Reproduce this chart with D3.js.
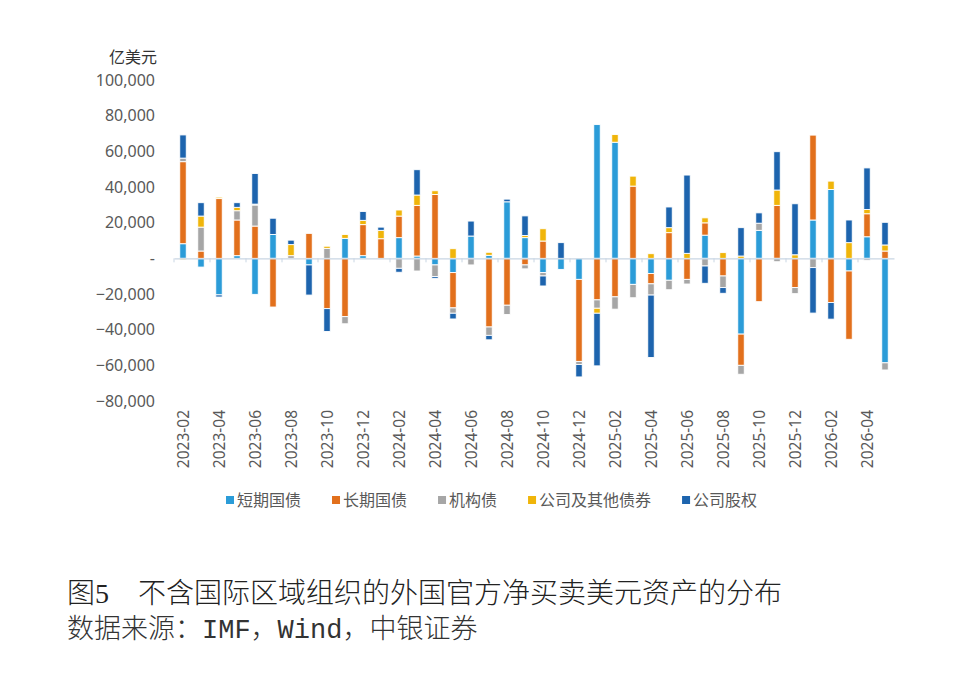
<!DOCTYPE html>
<html>
<head>
<meta charset="utf-8">
<script src="https://cdn.jsdelivr.net/npm/d3@7"></script>
<style>
  html, body { margin: 0; padding: 0; background: #fff; }
  svg { display: block; }
</style>
</head>
<body>
<div id="chart"></div>
<script>
// months on the x axis
const months = [
  '2023-02','2023-03','2023-04','2023-05','2023-06','2023-07','2023-08','2023-09','2023-10','2023-11','2023-12',
  '2024-01','2024-02','2024-03','2024-04','2024-05','2024-06','2024-07','2024-08','2024-09','2024-10','2024-11','2024-12',
  '2025-01','2025-02','2025-03','2025-04','2025-05','2025-06','2025-07','2025-08','2025-09','2025-10','2025-11','2025-12',
  '2026-01','2026-02','2026-03','2026-04','2026-05'
];

// series names (legend order = stack order)
const seriesNames = ['短期国债', '长期国债', '机构债', '公司及其他债券', '公司股权'];
const seriesColors = ['#2b9cd8', '#e2701c', '#a6a6a6', '#f0b50a', '#1d64ae'];

// values, 亿美元
const shortTerm = [
  8200, -4900, -20500, 1500, -20200, 13400, 0, -3700, 0, 11200, 1500,
  0, 11600, 1300, -3700, -8000, 12500, 1700, 31700, 11600, -8000, -6200, -11800,
  75000, 65100, -14600, -8500, -12300, 0, 13000, 0, -42500, 15700, 0, 0,
  21500, 38600, -7100, 12100, -58600
];
const longTerm = [
  46000, 4100, 33500, 20000, 18100, -27300, 0, 14000, -28200, -32700, 17400,
  11000, 12100, 28400, 35800, -19800, 0, -38500, -26300, -3700, 9700, 0, -46000,
  -23300, -21600, 40500, -5800, 14400, -11800, 6900, -9900, -17500, -24300, 29700, -16400,
  47600, -24800, -38300, 12900, 4100
];
const agency = [
  2000, 13400, 0, 5200, 11800, 0, 1500, 0, 5600, -4000, 0,
  0, -5600, -7100, -6500, -3000, -3700, -4700, -5200, -2200, -1900, 0, -1700,
  -4700, -6900, -7500, -6300, -5300, -2600, -4300, -6500, -5000, 4000, -1900, -3400,
  -5200, 0, 0, -1100, -4000
];
const corporate = [
  -800, 6200, 800, 1900, 500, 0, 6200, 0, 1200, 2200, 2400,
  4700, 3400, 5800, 2100, 5400, 0, 1700, 0, 1200, 6900, 0, 0,
  -2800, 4300, 5600, 2600, 2800, 2800, 2800, 3200, 1300, 0, 8600, 2000,
  0, 4700, 8800, 2400, 3400
];
const equity = [
  13000, 7500, -1200, 2600, 17200, 9100, 2500, -16900, -12800, 0, 5000,
  1800, -2200, 14200, -1000, -3200, 8400, -2500, 1500, 11000, -5600, 8800, -7000,
  -29500, 0, 0, -35000, 11600, 43900, -9700, -3200, 15900, 5800, 21500, 28600,
  -25500, -9300, 12700, 23300, 12700
];

const yTicks = [-80000, -60000, -40000, -20000, 0, 20000, 40000, 60000, 80000, 100000];

const seriesValues = [shortTerm, longTerm, agency, corporate, equity];
const table = months.map((m, i) => {
  const row = { month: m };
  seriesNames.forEach((s, k) => { row[s] = seriesValues[k][i]; });
  return row;
});

const W = 963, H = 688;
const plot = { left: 174, right: 894, top: 80, bottom: 401 };
const sansFont = '"Noto Sans", "Noto Sans CJK SC", sans-serif';
const cjkFont = '"Noto Sans CJK SC", sans-serif';

const svg = d3.select('#chart').append('svg')
  .attr('width', W)
  .attr('height', H);

svg.append('rect').attr('width', W).attr('height', H).attr('fill', '#fff');

const x = d3.scaleBand()
  .domain(months)
  .range([plot.left, plot.right])
  .paddingInner(0.64)
  .paddingOuter(0.32);

const y = d3.scaleLinear()
  .domain([-80000, 100000])
  .range([plot.bottom, plot.top]);

// y tick labels (no axis line)
const yAxis = svg.append('g')
  .attr('transform', `translate(${plot.left - 19},0)`)
  .call(d3.axisLeft(y)
    .tickValues(yTicks)
    .tickSize(0)
    .tickPadding(0)
    .tickFormat(d => d === 0 ? '-  ' : d3.format(',')(d)));
yAxis.select('.domain').remove();
yAxis.selectAll('text')
  .attr('fill', '#595959')
  .style('font-family', sansFont)
  .style('font-size', '16px');

// unit label
svg.append('text')
  .attr('x', 157)
  .attr('y', 63)
  .attr('text-anchor', 'end')
  .attr('fill', '#333')
  .style('font-family', cjkFont)
  .style('font-size', '16px')
  .text('亿美元');

// stacked bars, positives up and negatives down
const stack = d3.stack()
  .keys(seriesNames)
  .offset(d3.stackOffsetDiverging);
const layers = stack(table);

svg.append('g')
  .selectAll('g')
  .data(layers)
  .join('g')
  .attr('fill', (d, i) => seriesColors[i])
  .selectAll('rect')
  .data(d => d.filter(p => p[1] !== p[0]))
  .join('rect')
  .attr('x', d => x(d.data.month))
  .attr('width', x.bandwidth())
  .attr('y', d => y(Math.max(d[0], d[1])))
  .attr('height', d => Math.abs(y(d[0]) - y(d[1])))
  .attr('stroke', '#fff')
  .attr('stroke-width', 0.9);

// zero line
const xAxis = svg.append('g')
  .attr('transform', `translate(0,${y(0)})`)
  .call(d3.axisBottom(x).tickValues([]).tickSizeOuter(0));
xAxis.select('.domain').attr('stroke', '#c9d6e3').attr('stroke-width', 1.2);

// small ticks on the zero line, every two months
const gap = (x.step() - x.bandwidth()) / 2;
svg.append('g')
  .selectAll('line')
  .data(months.filter((m, i) => i % 2 === 0))
  .join('line')
  .attr('x1', d => x(d) - gap)
  .attr('x2', d => x(d) - gap)
  .attr('y1', y(0))
  .attr('y2', y(0) + 4)
  .attr('stroke', '#c9d6e3')
  .attr('stroke-width', 1);

// rotated month labels, every second month
svg.append('g')
  .selectAll('text')
  .data(months.filter((m, i) => i % 2 === 0))
  .join('text')
  .attr('transform', d => `translate(${x(d) + x.bandwidth() / 2 + 5.5},410) rotate(-90)`)
  .attr('text-anchor', 'end')
  .attr('fill', '#595959')
  .style('font-family', sansFont)
  .style('font-size', '15.5px')
  .text(d => d);

// legend
const legend = svg.append('g').attr('transform', 'translate(0,500)');
let lx = 226;
seriesNames.forEach((s, i) => {
  const g = legend.append('g').attr('transform', `translate(${lx},0)`);
  g.append('rect')
    .attr('x', 0).attr('y', -4)
    .attr('width', 8).attr('height', 8)
    .attr('fill', seriesColors[i]);
  const t = g.append('text')
    .attr('x', 11)
    .attr('y', 0)
    .attr('dy', '0.35em')
    .attr('fill', '#595959')
    .style('font-family', cjkFont)
    .style('font-size', '16px')
    .text(s);
  lx += 11 + t.node().getComputedTextLength() + 31;
});

// caption
const title = svg.append('text')
  .attr('y', 603)
  .attr('fill', '#222')
  .style('font-family', '"Liberation Serif", "Noto Sans CJK SC", serif')
  .style('font-size', '28px')
  .style('font-weight', 300);
title.append('tspan').attr('x', 67).text('图5');
title.append('tspan').attr('x', 138).text('不含国际区域组织的外国官方净买卖美元资产的分布');

svg.append('text')
  .attr('x', 67)
  .attr('y', 638)
  .attr('fill', '#333')
  .style('font-family', '"Liberation Mono", "Noto Sans CJK SC", monospace')
  .style('font-size', '27px')
  .style('font-weight', 300)
  .text('数据来源：IMF，Wind，中银证券');
</script>
</body>
</html>
